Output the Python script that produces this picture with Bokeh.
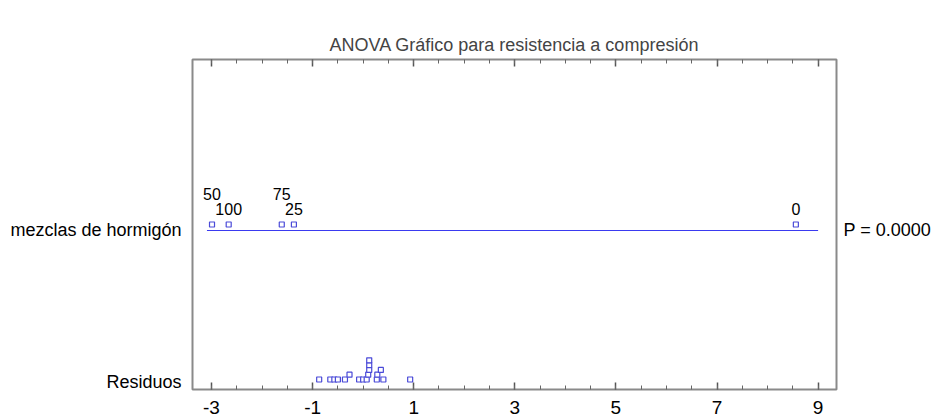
import numpy as np
from bokeh.plotting import figure
from bokeh.models import Range1d, LinearAxis, FixedTicker, ColumnDataSource
from bokeh.embed import file_html
from bokeh.resources import INLINE
from bokeh.core.properties import value

# ---- data ----
title_text = "ANOVA Gráfico para resistencia a compresión"
factor_name = "mezclas de hormigón"
residual_name = "Residuos"
p_value_text = "P = 0.0000"

level_labels = ["50", "100", "75", "25", "0"]
level_effects = [-2.99, -2.66, -1.61, -1.37, 8.56]
label_tier = [1, 0, 1, 0, 0]

residuals = [-0.87, -0.65, -0.57, -0.50, -0.36, -0.27, -0.08, 0.00, 0.07,
             0.10, 0.12, 0.12, 0.12, 0.27, 0.28, 0.35, 0.40, 0.93]
residual_stack = [0, 0, 0, 0, 0, 1, 0, 0, 0, 1, 2, 3, 4, 0, 1, 2, 0, 0]

x_major_ticks = [-3, -1, 1, 3, 5, 7, 9]
x_tick_labels = ["-3", "-1", "1", "3", "5", "7", "9"]
x_minor_step = 0.5

# ---- layout (vertical positions of rows, in frame pixels from bottom) ----
FACTOR_ROW = 160
RESID_ROW = 8
FONT = "Liberation Sans"
BLUE_LINE = "#3a3af0"
BLUE_MARK = "#4a4ad8"
FRAME_GRAY = "#8a8a8a"

p = figure(width=938, height=419, output_backend="svg", toolbar_location=None,
           x_range=Range1d(-3.376, 9.364), y_range=Range1d(0, 330),
           min_border_left=192, min_border_right=102, min_border_top=59,
           min_border_bottom=30, x_axis_location=None, y_axis_location=None)
p.grid.visible = False
p.outline_line_color = FRAME_GRAY
p.outline_line_width = 2
p.background_fill_color = "white"
p.border_fill_color = "white"

minor = list(np.arange(x_major_ticks[0], x_major_ticks[-1] + 1e-9, x_minor_step))
ticker = FixedTicker(ticks=x_major_ticks, minor_ticks=minor)

def style_x(ax, show_labels):
    ax.ticker = ticker
    ax.major_label_overrides = {t: l for t, l in zip(x_major_ticks, x_tick_labels)}
    ax.axis_line_color = None
    ax.major_tick_in = 7
    ax.major_tick_out = 0
    ax.minor_tick_in = 4
    ax.minor_tick_out = 0
    ax.major_tick_line_color = "#555555"
    ax.minor_tick_line_color = "#666666"
    ax.major_tick_line_width = 1.5
    ax.major_label_text_font = FONT
    ax.major_label_text_font_size = "19px"
    ax.major_label_text_color = "black" if show_labels else None
    ax.major_label_standoff = 11

xb = LinearAxis()
style_x(xb, True)
p.add_layout(xb, "below")
xt = LinearAxis()
style_x(xt, False)
xt.major_label_text_font_size = "1px"
xt.major_label_standoff = 0
p.add_layout(xt, "above")

def style_y(ax, ticks, labels, standoff):
    ax.ticker = FixedTicker(ticks=ticks)
    ax.major_label_overrides = {t: l for t, l in zip(ticks, labels)}
    ax.axis_line_color = None
    ax.major_tick_line_color = None
    ax.minor_tick_line_color = None
    ax.major_tick_in = 0
    ax.major_tick_out = 0
    ax.major_label_standoff = standoff
    ax.major_label_text_font = FONT
    ax.major_label_text_font_size = "18px"
    ax.major_label_text_color = "black"

yl = LinearAxis()
style_y(yl, [FACTOR_ROW, RESID_ROW], [factor_name, residual_name], 11)
p.add_layout(yl, "left")
yr = LinearAxis()
style_y(yr, [FACTOR_ROW], [p_value_text], 7)
p.add_layout(yr, "right")

# factor row line
p.segment(x0=[min(level_effects) - 0.1], y0=[FACTOR_ROW - 1],
          x1=[x_major_ticks[-1]], y1=[FACTOR_ROW - 1],
          line_color=BLUE_LINE, line_width=1.2)

src = ColumnDataSource(dict(
    x=level_effects,
    y=[FACTOR_ROW + 5] * len(level_effects),
    ty=[FACTOR_ROW + 21 + 15 * t for t in label_tier],
    lab=level_labels))
p.scatter("x", "y", source=src, marker="square", size=5,
          fill_color="white", line_color=BLUE_MARK, line_width=1.2)
p.text("x", "ty", text="lab", source=src, text_align="center",
       text_baseline="alphabetic", text_font=value(FONT),
       text_font_size="16px", text_color="black")

rsrc = ColumnDataSource(dict(
    x=residuals,
    y=[RESID_ROW + 2 + 4.8 * s for s in residual_stack]))
p.scatter("x", "y", source=rsrc, marker="square", size=5,
          fill_color="white", line_color=BLUE_MARK, line_width=1.2)

p.title.text = title_text
p.title.align = "center"
p.title.text_font = FONT
p.title.text_font_size = "18px"
p.title.text_font_style = "normal"

html = file_html(p, INLINE)
html = html.replace("<head>", "<head><style>html,body{overflow:hidden}</style>", 1)
open("out.html", "w").write(html)
